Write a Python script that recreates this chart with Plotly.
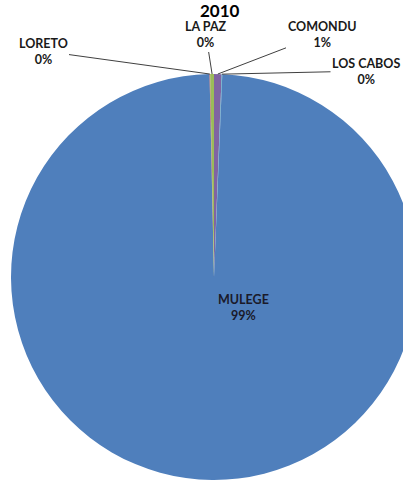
import math
import plotly.graph_objects as go

# ---- data ----
labels = ["COMONDU", "LOS CABOS", "MULEGE", "LORETO", "LA PAZ"]
values = [0.6, 0.05, 99.0, 0.05, 0.3]
colors = ["#8064A2", "#4BACC6", "#4F7FBC", "#C0504D", "#9BBB59"]
title_text = "2010"

# ---- layout geometry (pixels) ----
W, H = 420, 486          # canvas slightly wider than window; right edge of pie is clipped as in the reference
cx, cy, r = 214, 277, 203

def px2paper(px, py):
    return px / W, 1 - py / H

x0, y1 = px2paper(cx - r, cy - r)
x1, y0 = px2paper(cx + r, cy + r)

fig = go.Figure(go.Pie(
    labels=labels, values=values, sort=False, direction="clockwise",
    rotation=0, marker=dict(colors=colors, line=dict(width=0)),
    textinfo="none", hoverinfo="label+percent", showlegend=False,
    domain=dict(x=[x0, min(x1, 1)], y=[y0, y1]),
))

# label text centres (pixels)
label_pos = {
    "LORETO": (43, 51),
    "LA PAZ": (206, 35),
    "COMONDU": (322, 34),
    "LOS CABOS": (366, 71),
    "MULEGE": (243, 307),
}

lab_font = dict(family="Lato", size=12.5, color="#1a1a1a", weight="bold")
total = sum(values)
cum = 0.0
annotations = []
for lab, v in zip(labels, values):
    start = cum / total * 360
    cum += v
    end = cum / total * 360
    mid = math.radians((start + end) / 2)
    pct = round(v / total * 100)
    text = f"{lab}<br>{pct}%"
    tx, ty = label_pos[lab]
    if lab == "MULEGE":
        ax_, ay_ = px2paper(tx, ty)
        annotations.append(dict(x=ax_, y=ay_, xref="paper", yref="paper",
                                xanchor="center", yanchor="middle",
                                text=text, showarrow=False,
                                font=dict(lab_font, color="#1a1a2a")))
        continue
    hx = cx + r * math.sin(mid)
    hy = cy - r * math.cos(mid)
    px_, py_ = px2paper(hx, hy)
    annotations.append(dict(
        x=px_, y=py_, xref="paper", yref="paper", text=text,
        showarrow=True, arrowhead=0, arrowwidth=1, arrowcolor="#404040",
        ax=tx - hx, ay=ty - hy, axref="pixel", ayref="pixel",
        font=lab_font,
    ))

tx_, ty_ = px2paper(220, 10)
annotations.append(dict(x=tx_, y=ty_, xref="paper", yref="paper", text=title_text,
                        xanchor="center", yanchor="middle", showarrow=False,
                        font=dict(family="Lato", size=17, color="#000000", weight="bold")))

fig.update_layout(
    width=W, height=H, margin=dict(l=0, r=0, t=0, b=0),
    paper_bgcolor="white", plot_bgcolor="white",
    annotations=annotations,
)

fig.write_html("out.html", config={"displayModeBar": False},
               post_script="document.body.style.margin='0px';document.body.style.overflow='hidden';")
